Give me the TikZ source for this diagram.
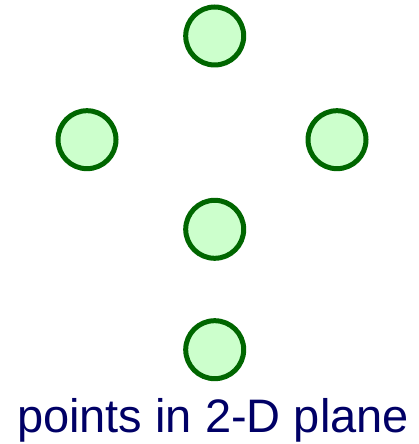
\documentclass[tikz,border=0pt]{standalone}
\usepackage{fontspec}
\setmainfont{Liberation Sans}
\definecolor{ptfill}{HTML}{CCFFCC}
\definecolor{ptline}{HTML}{006600}
\definecolor{labelblue}{HTML}{000066}
\begin{document}
\begin{tikzpicture}[x=1pt,y=1pt,
  pt/.style={circle,draw=ptline,fill=ptfill,line width=5pt,minimum size=58pt,inner sep=0pt},
  caption/.style={text=labelblue,font=\fontsize{47pt}{50pt}\selectfont,inner sep=0pt,anchor=base}]
\useasboundingbox (0,0) rectangle (419,444);
\node[pt] (top) at (214.7,408) {};
\node[pt] (left) at (87,304.3) {};
\node[pt] (right) at (337,304.3) {};
\node[pt] (mid) at (214.7,214.7) {};
\node[pt] (bot) at (214.7,94.3) {};
\node[caption] (lbl) at (213,12) {points in 2-D plane};
\end{tikzpicture}
\end{document}
